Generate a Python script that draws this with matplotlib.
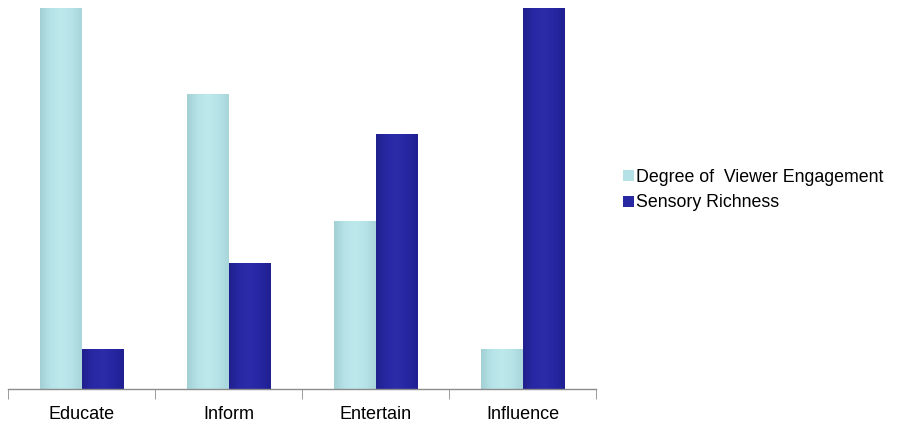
import numpy as np
import matplotlib.pyplot as plt
from matplotlib.colors import LinearSegmentedColormap

plt.rcParams['font.family'] = ['Liberation Sans', 'DejaVu Sans']

categories = ['Educate', 'Inform', 'Entertain', 'Influence']
engagement = [10.0, 7.75, 4.4, 1.05]
richness = [1.05, 3.3, 6.7, 10.0]
series_names = ['Degree of  Viewer Engagement', 'Sensory Richness']

light_cmap = LinearSegmentedColormap.from_list(
    'light', ['#a2d0d3', '#b6e3e7', '#bde9ec', '#b6e3e7', '#a8d6da'])
dark_cmap = LinearSegmentedColormap.from_list(
    'dark', ['#20208e', '#2828a4', '#2c2caa', '#2626a2', '#202092'])

fig = plt.figure(figsize=(8.98, 4.23), dpi=100)
ax = fig.add_axes([8 / 898, (423 - 389) / 423, 588 / 898, 381 / 423])

x = np.arange(len(categories))
w = 0.285
b1 = ax.bar(x - w / 2, engagement, w, color='#b4e2e6', label=series_names[0])
b2 = ax.bar(x + w / 2, richness, w, color='#2828a2', label=series_names[1])

# shade each bar with a soft horizontal gradient, clipped to the bar shape
grad = np.linspace(0, 1, 64).reshape(1, -1)
for bars, cmap in ((b1, light_cmap), (b2, dark_cmap)):
    for p in bars:
        x0, y0 = p.get_x(), p.get_y()
        im = ax.imshow(grad, cmap=cmap, aspect='auto', zorder=p.get_zorder(),
                       extent=[x0, x0 + p.get_width(), y0, y0 + p.get_height()])
        im.set_clip_path(p)

ax.set_xlim(-0.5, len(categories) - 0.5)
ax.set_ylim(0, 10.0)

for s in ('top', 'right', 'left'):
    ax.spines[s].set_visible(False)
ax.spines['bottom'].set_color('#8c8c8c')
ax.spines['bottom'].set_linewidth(1.0)
ax.set_yticks([])

ax.set_xticks(x)
ax.set_xticklabels(categories, fontsize=13)
ax.tick_params(axis='x', which='major', length=0, pad=12)
ax.set_xticks(np.arange(len(categories) + 1) - 0.5, minor=True)
ax.tick_params(axis='x', which='minor', length=7, color='#8c8c8c', direction='out')

fig.legend(handles=[b1, b2], loc='center left', bbox_to_anchor=(616 / 898, 1 - 190 / 423),
           frameon=False, fontsize=12.8, handlelength=0.6, handleheight=0.6,
           handletextpad=0.15, labelspacing=0.5, borderaxespad=0)

fig.savefig('out.png', dpi=100)
